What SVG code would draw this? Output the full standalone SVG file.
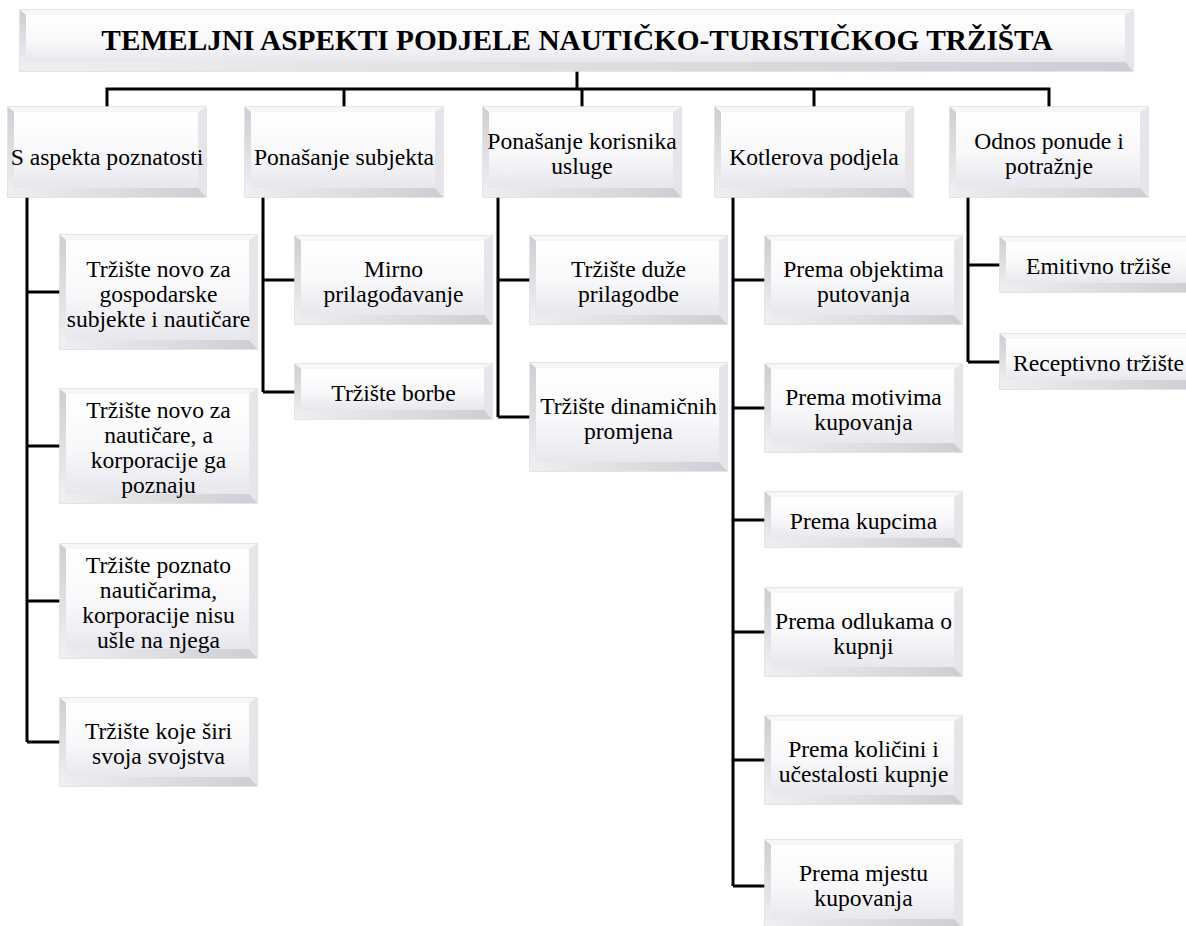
<svg xmlns="http://www.w3.org/2000/svg" xmlns:xlink="http://www.w3.org/1999/xlink" width="1186" height="926" viewBox="0 0 1186 926">
<style>
.o{fill:#eeeef2;stroke:#dcdce0;stroke-width:1.5}
.bt{fill:#f6f6f8}
.br{fill:#e6e6ea}
.bb{fill:url(#gb)}
.bl{fill:url(#gl)}
.f{fill:url(#gf)}
.ln{fill:none;stroke:#000;stroke-width:3}
</style>
<defs>
<linearGradient id="gf" x1="0" y1="0" x2="0" y2="1"><stop offset="0" stop-color="#ffffff"/><stop offset="0.55" stop-color="#f8f8fa"/><stop offset="1" stop-color="#e7e7ee"/></linearGradient>
<linearGradient id="gl" x1="0" y1="0" x2="0" y2="1"><stop offset="0" stop-color="#cdcdd3"/><stop offset="1" stop-color="#f2f2f4"/></linearGradient>
<linearGradient id="gb" x1="0" y1="0" x2="1" y2="0"><stop offset="0" stop-color="#efeff2"/><stop offset="1" stop-color="#cdcdd3"/></linearGradient>
<g id="boxT"><rect class="o" width="1113" height="61"/><polygon class="bt" points="0,0 1113,0 1105,5 6,5"/><polygon class="br" points="1113,0 1113,61 1105,52 1105,5"/><polygon class="bb" points="0,61 1113,61 1105,52 6,52"/><polygon class="bl" points="0,0 6,5 6,52 0,61"/><rect class="f" x="6" y="5" width="1099" height="47"/></g>
<g id="boxA"><rect class="o" width="198" height="90"/><polygon class="bt" points="0,0 198,0 190,5 6,5"/><polygon class="br" points="198,0 198,90 190,81 190,5"/><polygon class="bb" points="0,90 198,90 190,81 6,81"/><polygon class="bl" points="0,0 6,5 6,81 0,90"/><rect class="f" x="6" y="5" width="184" height="76"/></g>
<g id="boxB"><rect class="o" width="197" height="114"/><polygon class="bt" points="0,0 197,0 189,5 6,5"/><polygon class="br" points="197,0 197,114 189,105 189,5"/><polygon class="bb" points="0,114 197,114 189,105 6,105"/><polygon class="bl" points="0,0 6,5 6,105 0,114"/><rect class="f" x="6" y="5" width="183" height="100"/></g>
<g id="boxC"><rect class="o" width="197" height="88"/><polygon class="bt" points="0,0 197,0 189,5 6,5"/><polygon class="br" points="197,0 197,88 189,79 189,5"/><polygon class="bb" points="0,88 197,88 189,79 6,79"/><polygon class="bl" points="0,0 6,5 6,79 0,88"/><rect class="f" x="6" y="5" width="183" height="74"/></g>
<g id="boxD"><rect class="o" width="197" height="55"/><polygon class="bt" points="0,0 197,0 189,5 6,5"/><polygon class="br" points="197,0 197,55 189,46 189,5"/><polygon class="bb" points="0,55 197,55 189,46 6,46"/><polygon class="bl" points="0,0 6,5 6,46 0,55"/><rect class="f" x="6" y="5" width="183" height="41"/></g>
<g id="boxE"><rect class="o" width="197" height="108"/><polygon class="bt" points="0,0 197,0 189,5 6,5"/><polygon class="br" points="197,0 197,108 189,99 189,5"/><polygon class="bb" points="0,108 197,108 189,99 6,99"/><polygon class="bl" points="0,0 6,5 6,99 0,108"/><rect class="f" x="6" y="5" width="183" height="94"/></g>
</defs>
<rect width="1186" height="926" fill="#ffffff"/>
<g id="connectors">
<path class="ln" d="M577,71V89M107,107V89H1049V107M344,89V107M582,89V107M814,89V107"/>
<path class="ln" d="M27,197V742M27,292H60M27,446H60M27,601H60M27,742H60"/>
<path class="ln" d="M263,197V392M263,280H295M263,392H295"/>
<path class="ln" d="M498,197V417M498,280H530M498,417H530"/>
<path class="ln" d="M733,197V886M733,280H765M733,408H765M733,520H765M733,632H765M733,760H765M733,886H765"/>
<path class="ln" d="M968,197V362M968,265H1000M968,362H1000"/>
</g>
<g id="title"><use xlink:href="#boxT" x="20" y="10"/><text font-family="Liberation Serif, Times New Roman, serif" font-size="29.3" font-weight="bold" text-anchor="middle" x="577" y="50">TEMELJNI ASPEKTI PODJELE NAUTIČKO-TURISTIČKOG TRŽIŠTA</text></g>
<g font-family="Liberation Serif, Times New Roman, serif" font-size="23.6" text-anchor="middle" fill="#000">
<g id="n1"><use xlink:href="#boxA" x="8" y="107"/><text x="107" y="165">S aspekta poznatosti</text></g>
<g id="n2"><use xlink:href="#boxA" x="245" y="107"/><text x="344" y="165">Ponašanje subjekta</text></g>
<g id="n3"><use xlink:href="#boxA" x="483" y="107"/><text><tspan x="582" y="149">Ponašanje korisnika</tspan><tspan x="582" y="174">usluge</tspan></text></g>
<g id="n4"><use xlink:href="#boxA" x="715" y="107"/><text x="814" y="165">Kotlerova podjela</text></g>
<g id="n5"><use xlink:href="#boxA" x="950" y="107"/><text><tspan x="1049" y="149">Odnos ponude i</tspan><tspan x="1049" y="174">potražnje</tspan></text></g>
<g id="n1a"><use xlink:href="#boxB" x="60" y="235"/><text><tspan x="158.5" y="277">Tržište novo za</tspan><tspan x="158.5" y="302">gospodarske</tspan><tspan x="158.5" y="327">subjekte i nautičare</tspan></text></g>
<g id="n1b"><use xlink:href="#boxB" x="60" y="389"/><text><tspan x="158.5" y="418">Tržište novo za</tspan><tspan x="158.5" y="443">nautičare, a</tspan><tspan x="158.5" y="468">korporacije ga</tspan><tspan x="158.5" y="493">poznaju</tspan></text></g>
<g id="n1c"><use xlink:href="#boxB" x="60" y="544"/><text><tspan x="158.5" y="573">Tržište poznato</tspan><tspan x="158.5" y="598">nautičarima,</tspan><tspan x="158.5" y="623">korporacije nisu</tspan><tspan x="158.5" y="648">ušle na njega</tspan></text></g>
<g id="n1d"><use xlink:href="#boxC" x="60" y="698"/><text><tspan x="158.5" y="739">Tržište koje širi</tspan><tspan x="158.5" y="764">svoja svojstva</tspan></text></g>
<g id="n2a"><use xlink:href="#boxC" x="295" y="236"/><text><tspan x="393.5" y="277">Mirno</tspan><tspan x="393.5" y="302">prilagođavanje</tspan></text></g>
<g id="n2b"><use xlink:href="#boxD" x="295" y="364"/><text x="393.5" y="401">Tržište borbe</text></g>
<g id="n3a"><use xlink:href="#boxC" x="530" y="236"/><text><tspan x="628.5" y="277">Tržište duže</tspan><tspan x="628.5" y="302">prilagodbe</tspan></text></g>
<g id="n3b"><use xlink:href="#boxE" x="530" y="363"/><text><tspan x="628.5" y="414">Tržište dinamičnih</tspan><tspan x="628.5" y="439">promjena</tspan></text></g>
<g id="n4a"><use xlink:href="#boxC" x="765" y="236"/><text><tspan x="863.5" y="277">Prema objektima</tspan><tspan x="863.5" y="302">putovanja</tspan></text></g>
<g id="n4b"><use xlink:href="#boxC" x="765" y="364"/><text><tspan x="863.5" y="405">Prema motivima</tspan><tspan x="863.5" y="430">kupovanja</tspan></text></g>
<g id="n4c"><use xlink:href="#boxD" x="765" y="492"/><text x="863.5" y="529">Prema kupcima</text></g>
<g id="n4d"><use xlink:href="#boxC" x="765" y="588"/><text><tspan x="863.5" y="629">Prema odlukama o</tspan><tspan x="863.5" y="654">kupnji</tspan></text></g>
<g id="n4e"><use xlink:href="#boxC" x="765" y="716"/><text><tspan x="863.5" y="757">Prema količini i</tspan><tspan x="863.5" y="782">učestalosti kupnje</tspan></text></g>
<g id="n4f"><use xlink:href="#boxC" x="765" y="840"/><text><tspan x="863.5" y="881">Prema mjestu</tspan><tspan x="863.5" y="906">kupovanja</tspan></text></g>
<g id="n5a"><use xlink:href="#boxD" x="1000" y="237"/><text x="1098.5" y="274">Emitivno tržiše</text></g>
<g id="n5b"><use xlink:href="#boxD" x="1000" y="334"/><text x="1098.5" y="371">Receptivno tržište</text></g>
</g>
</svg>
